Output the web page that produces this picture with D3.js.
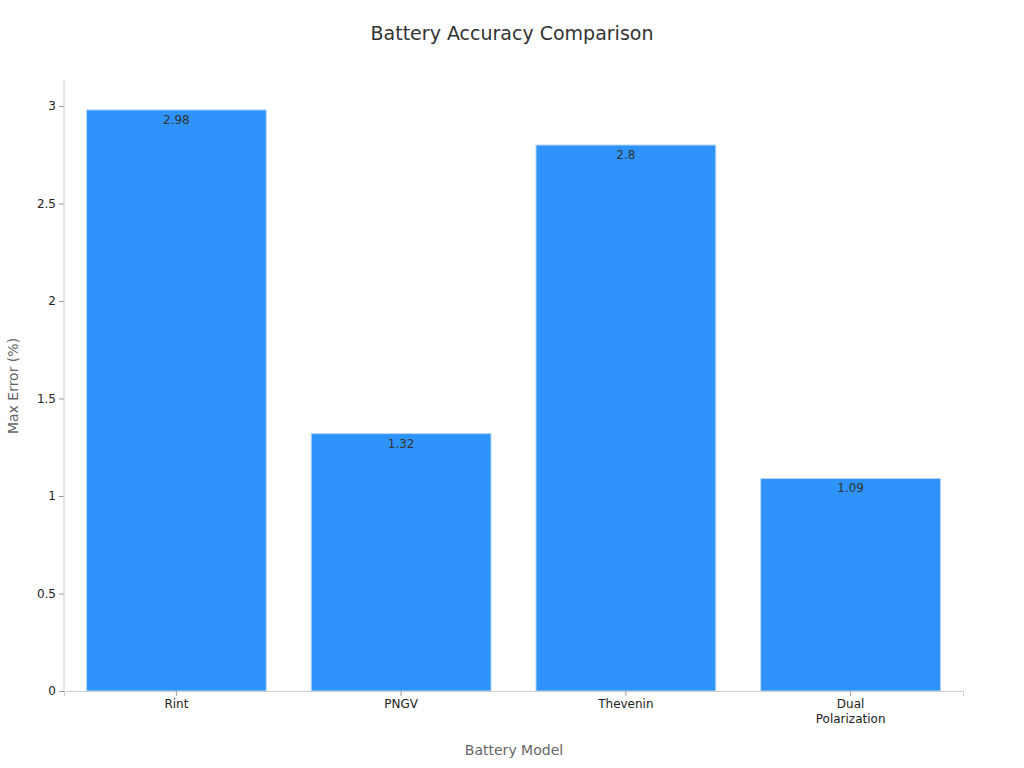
<!DOCTYPE html>
<html>
<head>
<meta charset="utf-8">
<script src="https://cdn.jsdelivr.net/npm/d3@7"></script>
<style>
  body { margin: 0; background: #fff; }
  text { font-family: "DejaVu Sans", sans-serif; }
</style>
</head>
<body>
<svg id="chart" width="1024" height="768"></svg>
<script>
const models = ["Rint", "PNGV", "Thevenin", "Dual Polarization"];
const maxError = [2.98, 1.32, 2.8, 1.09];
const yTicks = [0, 0.5, 1, 1.5, 2, 2.5, 3];

const svg = d3.select("#chart");
const plotLeft = 64, plotRight = 963, plotTop = 80, plotBottom = 691;

const x = d3.scaleBand().domain(models).range([plotLeft, plotRight])
    .paddingInner(0.2).paddingOuter(0.1);
const y = d3.scaleLinear().domain([0, 3]).range([plotBottom, 106]);

svg.append("text").attr("x", 512).attr("y", 40).attr("text-anchor", "middle")
    .attr("font-size", 19).attr("fill", "#333").text("Battery Accuracy Comparison");

svg.selectAll("rect.bar").data(models).join("rect")
    .attr("class", "bar")
    .attr("x", d => x(d)).attr("width", x.bandwidth())
    .attr("y", (d, i) => y(maxError[i]))
    .attr("height", (d, i) => y(0) - y(maxError[i]))
    .attr("fill", "#2e93fa").attr("stroke", "#b8d8f8").attr("stroke-width", 1);

svg.selectAll("text.val").data(models).join("text")
    .attr("class", "val")
    .attr("x", d => x(d) + x.bandwidth() / 2)
    .attr("y", (d, i) => y(maxError[i]) + 14)
    .attr("text-anchor", "middle").attr("font-size", 12).attr("fill", "#333")
    .text((d, i) => maxError[i]);

// axes
const yAxis = svg.append("g").attr("transform", `translate(${plotLeft},0)`)
    .call(d3.axisLeft(y).tickValues(yTicks).tickSize(5).tickFormat(d3.format("")));
yAxis.select(".domain").remove();
yAxis.selectAll("line").attr("stroke", "#999");
yAxis.selectAll("text").attr("font-size", 12).attr("fill", "#222");
svg.append("line").attr("x1", plotLeft).attr("x2", plotLeft).attr("y1", plotTop).attr("y2", plotBottom)
    .attr("stroke", "#ccc");

const xAxis = svg.append("g").attr("transform", `translate(0,${plotBottom})`)
    .call(d3.axisBottom(x).tickSize(5));
xAxis.select(".domain").attr("stroke", "#ccc");
xAxis.selectAll("line").attr("stroke", "#999");
xAxis.selectAll("text").attr("font-size", 12).attr("fill", "#222")
    .each(function(d) {
      const t = d3.select(this);
      const words = d.split(" ");
      if (words.length > 1) {
        t.text(null);
        words.forEach((w, i) => t.append("tspan").attr("x", 0)
            .attr("dy", i === 0 ? "0.71em" : "1.3em").text(w));
      }
    });

svg.append("text").attr("x", 514).attr("y", 755).attr("text-anchor", "middle")
    .attr("font-size", 14).attr("fill", "#666").text("Battery Model");
svg.append("text").attr("transform", "translate(18,386) rotate(-90)")
    .attr("text-anchor", "middle").attr("font-size", 14).attr("fill", "#666")
    .text("Max Error (%)");
</script>
</body>
</html>
